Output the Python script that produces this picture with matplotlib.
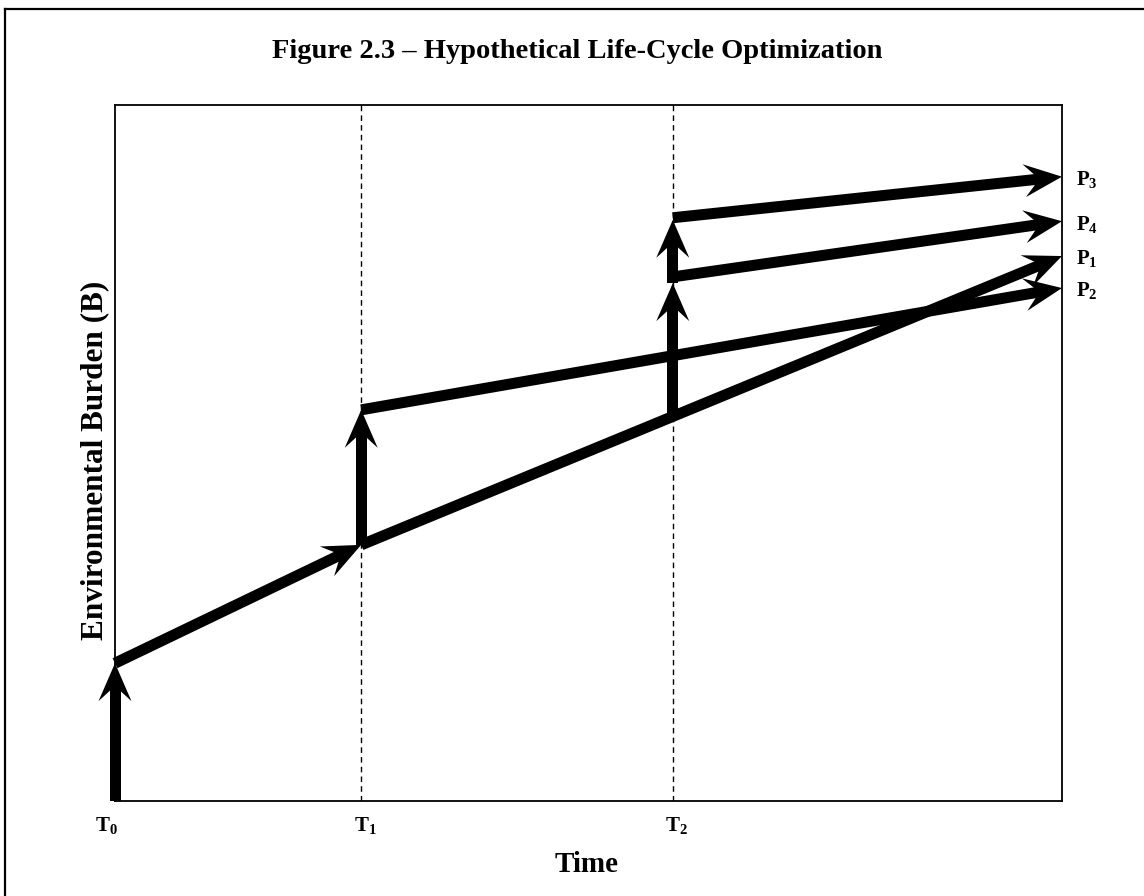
import numpy as np
import matplotlib
matplotlib.use("Agg")
import matplotlib.pyplot as plt
from matplotlib.patches import Polygon
from matplotlib.lines import Line2D

plt.rcParams["font.family"] = ["Liberation Serif", "DejaVu Serif"]
plt.rcParams["font.weight"] = "bold"
plt.rcParams["mathtext.fontset"] = "custom"
plt.rcParams["mathtext.rm"] = "Liberation Serif:bold"
plt.rcParams["mathtext.it"] = "Liberation Serif:bold"
plt.rcParams["mathtext.bf"] = "Liberation Serif:bold"

# ── data (arbitrary units: time 0..10, burden 0..10) ──
time_points = [0.0, 2.6, 5.89]
time_labels = ["T$_0$", "T$_1$", "T$_2$"]
t_end = 10.0

# path segments: (x0, y0, x1, y1)
base_seg    = (0.0, 0.0, 0.0, 1.98)      # initial burden at T0
p1_start    = (0.0, 1.98, 2.6, 3.68)     # first stretch to T1
p1_end      = (2.6, 3.68, 10.0, 7.83)    # P1 continues unchanged
t1_jump     = (2.6, 3.68, 2.6, 5.62)     # intervention at T1
p2_line     = (2.6, 5.62, 10.0, 7.37)
t2_jump_a   = (5.89, 5.57, 5.89, 7.44)   # intervention at T2 (P4)
t2_jump_b   = (5.89, 7.44, 5.89, 8.35)   # further jump (P3)
p4_line     = (5.89, 7.53, 10.0, 8.33)
p3_line     = (5.89, 8.38, 10.0, 8.97)

end_labels = ["P$_3$", "P$_4$", "P$_1$", "P$_2$"]
end_y      = [8.97, 8.33, 7.83, 7.37]

fig = plt.figure(figsize=(11.44, 8.96), dpi=100)
ax = fig.add_axes([115 / 1144, 95 / 896, 947 / 1144, 696 / 896])
ax.set_xlim(0, t_end)
ax.set_ylim(0, 10)

for sp in ax.spines.values():
    sp.set_linewidth(1.3)
ax.set_xticks([])
ax.set_yticks([])

# dashed guides at T1, T2
for t in time_points[1:]:
    ax.axvline(t, color="black", lw=1.0, ls=(0, (4, 3)), zorder=1)


def draw_arrow(ax, seg, lw_px=11, head_len=38, head_w=33, head=True):
    # work in pixel space so arrowheads keep their shape
    x0, y0, x1, y1 = seg
    p0 = ax.transData.transform((x0, y0))
    p1 = ax.transData.transform((x1, y1))
    d = p1 - p0
    L = np.hypot(*d)
    u = d / L
    n = np.array([-u[1], u[0]])
    if head:
        notch = p1 - u * head_len * 0.6
        shaft_end = p1 - u * head_len * 0.5
    else:
        shaft_end = p1
    hw = lw_px / 2
    shaft = [p0 + n * hw, shaft_end + n * hw, shaft_end - n * hw, p0 - n * hw]
    ax.add_patch(Polygon(shaft, closed=True, transform=None, color="black",
                         lw=0, clip_on=False, zorder=3))
    if head:
        back = p1 - u * head_len
        poly = [p1, back + n * head_w / 2, notch, back - n * head_w / 2]
        ax.add_patch(Polygon(poly, closed=True, transform=None, color="black",
                             lw=0, clip_on=False, zorder=4))


for seg in [base_seg, p1_start, p1_end, t1_jump, p2_line,
            t2_jump_a, t2_jump_b, p4_line, p3_line]:
    draw_arrow(ax, seg)

# end labels
for lab, y in zip(end_labels, end_y):
    ax.text(t_end + 0.15, y - 0.04, lab, fontsize=15, fontweight="bold",
            ha="left", va="center")

# time labels under axis
offsets = [-0.09, 0.04, 0.04]
for t, lab, off in zip(time_points, time_labels, offsets):
    ax.text(t + off, -0.2, lab, fontsize=15, fontweight="bold",
            ha="center", va="top")

ax.text(0.5 - 0.002, -0.072, "Time", transform=ax.transAxes, fontsize=21,
        fontweight="bold", ha="center", va="top")
ax.text(-0.021, 0.49, "Environmental Burden (B)", transform=ax.transAxes,
        fontsize=22.5, fontweight="bold", rotation=90, ha="center", va="center")

fig.text(577 / 1144, 1 - 52 / 896, "Figure 2.3 \u2013 Hypothetical Life-Cycle Optimization",
         fontsize=20.5, fontweight="bold", ha="center", va="center")

# partial page frame (top and left edges)
fig.add_artist(Line2D([5 / 1144, 5 / 1144], [0, 1 - 9 / 896], transform=fig.transFigure,
                      color="black", lw=1.6))
fig.add_artist(Line2D([5 / 1144, 1], [1 - 9 / 896, 1 - 9 / 896], transform=fig.transFigure,
                      color="black", lw=1.6))

fig.savefig("out.png", dpi=100)
